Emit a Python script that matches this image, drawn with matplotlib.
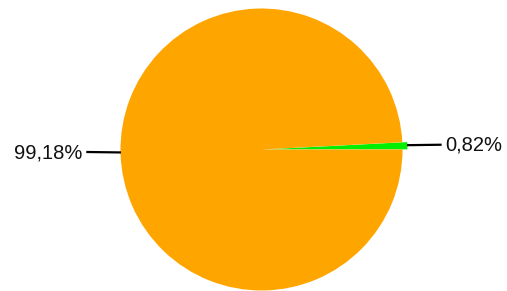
import numpy as np
import matplotlib
matplotlib.use("Agg")
import matplotlib.pyplot as plt

labels = ["0,82%", "99,18%"]
values = [0.82, 99.18]
colors = ["#00ee00", "#ffa500"]

W, H = 507, 291
cx, cy, r = 261.5, 149.5, 141.0

fig = plt.figure(figsize=(W / 100, H / 100), dpi=100)
ax = fig.add_axes([0, 0, 1, 1])
ax.axis("off")

explode = [0.035, 0]
wedges, _ = ax.pie(values, colors=colors, startangle=0, counterclock=True,
                   radius=1.0, explode=explode, wedgeprops=dict(linewidth=0))

ax.set_xlim(-cx / r, (W - cx) / r)
ax.set_ylim(-(H - cy) / r, cy / r)
ax.set_aspect("auto")

for w, lab, ex in zip(wedges, labels, explode):
    ang = np.deg2rad((w.theta1 + w.theta2) / 2)
    x0, y0 = np.cos(ang) * (1 + ex), np.sin(ang)
    side = 1 if x0 > 0 else -1
    x1 = x0 + side * 0.005
    x2 = x0 + side * 0.235
    ax.plot([x1, x2], [y0 + 0.005, y0 + 0.008], color="black", lw=1.6)
    ax.text(x2 + side * 0.035, y0 + 0.003, lab, ha="left" if side > 0 else "right",
            va="center", fontsize=14.5, family="Liberation Sans", color="#111111")

fig.savefig("out.png", dpi=100)
